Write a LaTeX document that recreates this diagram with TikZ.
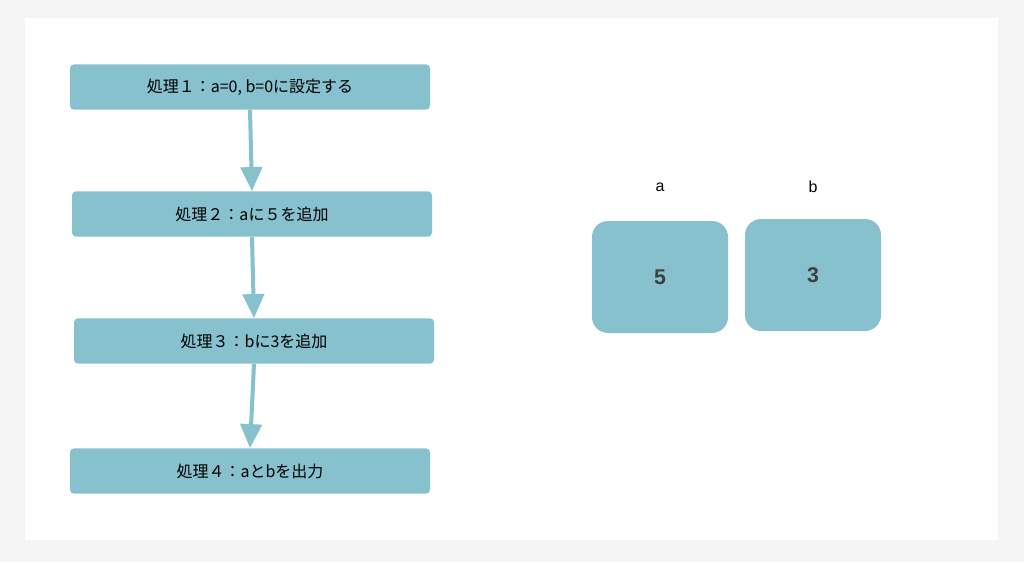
\documentclass[tikz,border=0pt]{standalone}
\usepackage{fontspec}
\setmainfont{Liberation Sans}
\newfontfamily\cjk{Noto Sans CJK JP}
\usetikzlibrary{arrows.meta,shadows}
\definecolor{boxblue}{HTML}{86C1CD}
\definecolor{numgray}{HTML}{3F3F3F}
\begin{document}
\begin{tikzpicture}[x=0.75pt,y=-0.75pt,
procbox/.style={fill=boxblue,rounded corners=3pt,minimum width=270pt,minimum height=34pt,font=\cjk\fontsize{12}{14}\selectfont},
cell/.style={fill=boxblue,rounded corners=12pt,minimum width=102pt,minimum height=84pt,font=\bfseries\fontsize{16}{18}\selectfont,text=numgray},
flow/.style={draw=boxblue,line width=3pt,-{Triangle[length=18pt,width=16pt]}},
panel/.style={fill=white,drop shadow={shadow xshift=0pt,shadow yshift=0pt,opacity=0.12}}
]
\useasboundingbox[fill=white!96!black] (0,0) rectangle (1024,562);
\fill[panel] (25,18) rectangle (998,540);
\fill[panel] (517,96) rectangle (957,458);
% flow steps
\node[procbox] (s1) at (250,87) {処理１：a=0, b=0に設定する};
\node[procbox] (s2) at (252,214) {処理２：aに５を追加};
\node[procbox] (s3) at (254,341) {処理３：bに3を追加};
\node[procbox] (s4) at (250,471) {処理４：aとbを出力};
\draw[flow] (s1.south) -- (s2.north);
\draw[flow] (s2.south) -- (s3.north);
\draw[flow] (s3.south) -- (s4.north);
% variables
\node[cell] (va) at (660,277) {5};
\node[cell] (vb) at (813,275) {3};
\node[font=\fontsize{12}{14}\selectfont] (la) at (660,187) {a};
\node[font=\fontsize{12}{14}\selectfont] (lb) at (813,187) {b};
\end{tikzpicture}
\end{document}
